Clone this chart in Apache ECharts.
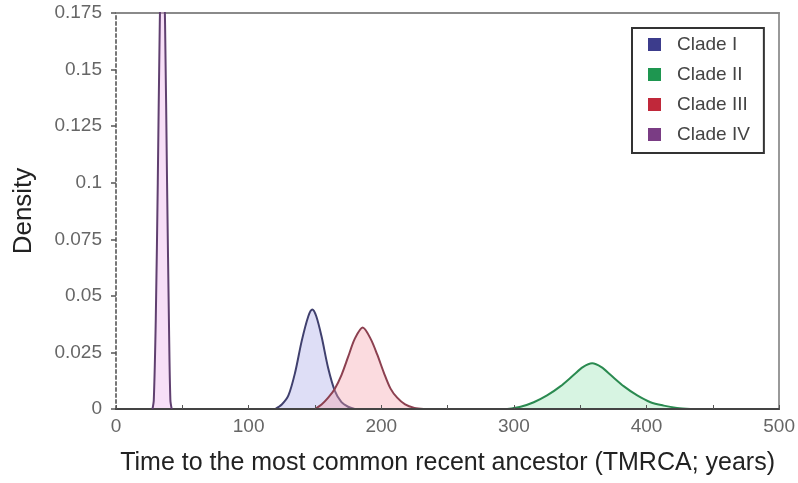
<!DOCTYPE html>
<html>
<head>
<meta charset="utf-8">
<script src="https://cdn.jsdelivr.net/npm/echarts@6/dist/echarts.min.js"></script>
<style>html,body{margin:0;padding:0;background:#fff}#c{width:798px;height:483px}</style>
</head>
<body>
<div id="c"></div>
<script>
// ---- data ----
var cladeNames = ['Clade I', 'Clade II', 'Clade III', 'Clade IV'];

var cladeIx = [120, 125, 130, 135, 140, 145, 148, 151, 155, 160, 165, 170, 175, 180];
var cladeIy = [0, 0.002, 0.006, 0.016, 0.030, 0.041, 0.044, 0.041, 0.032, 0.018, 0.008, 0.003, 0.001, 0];

var cladeIIx = [295, 305, 315, 325, 335, 345, 352, 359, 366, 373, 383, 393, 403, 413, 423, 433];
var cladeIIy = [0, 0.001, 0.003, 0.006, 0.010, 0.015, 0.0185, 0.0202, 0.0185, 0.015, 0.010, 0.006, 0.003, 0.0015, 0.0005, 0];

var cladeIIIx = [150, 155, 160, 165, 170, 175, 180, 186, 192, 197, 202, 207, 212, 218, 225, 232];
var cladeIIIy = [0, 0.002, 0.005, 0.009, 0.015, 0.023, 0.031, 0.036, 0.031, 0.024, 0.016, 0.009, 0.005, 0.002, 0.0005, 0];

var cladeIVx = [27.5, 28.5, 30, 31.5, 33, 35, 37, 38.5, 40, 41, 42];
var cladeIVy = [0, 0.004, 0.04, 0.10, 0.17, 0.225, 0.17, 0.10, 0.035, 0.004, 0];

var xTicks = [0, 100, 200, 300, 400, 500];
var yTicks = [0, 0.025, 0.05, 0.075, 0.1, 0.125, 0.15, 0.175];

// ---- styles ----
var markerColors = ['#3c3c8c', '#1e9650', '#c0283a', '#7a3c84'];
var lineColors = ['#40406e', '#2a8a50', '#8c4050', '#604070'];
var fillColors = ['rgba(160,160,230,0.35)', 'rgba(150,225,180,0.38)', 'rgba(245,160,172,0.38)', 'rgba(235,170,235,0.38)'];

function pairs(xs, ys) { return xs.map(function (x, i) { return [x, ys[i]]; }); }
var allData = [pairs(cladeIx, cladeIy), pairs(cladeIIx, cladeIIy), pairs(cladeIIIx, cladeIIIy), pairs(cladeIVx, cladeIVy)];

var FONT = 'Liberation Sans, Arial, sans-serif';

var series = cladeNames.map(function (n, i) {
  return {
    name: n, type: 'line', data: allData[i], xAxisIndex: 0, yAxisIndex: 0,
    showSymbol: false, smooth: 0.3, clip: true,
    itemStyle: { color: markerColors[i] },
    lineStyle: { color: lineColors[i], width: 2 },
    areaStyle: { color: fillColors[i], opacity: 1 },
    z: 2 + i
  };
});

var chart = echarts.init(document.getElementById('c'));
chart.setOption({
  animation: false,
  backgroundColor: '#fff',
  grid: { left: 116, right: 18, top: 13, bottom: 74 },
  legend: {
    data: cladeNames, orient: 'vertical', left: 632, top: 28,
    padding: [7, 14, 9, 16], itemGap: 11, itemWidth: 13, itemHeight: 13,
    icon: 'rect', borderColor: '#333', borderWidth: 2, backgroundColor: '#fff',
    textStyle: { fontFamily: FONT, fontSize: 19, color: '#444', padding: [0, 0, 0, 11] },
    z: 10
  },
  xAxis: [{
    type: 'value', min: xTicks[0], max: xTicks[xTicks.length - 1], interval: 50,
    splitLine: { show: false },
    axisLine: { show: true, onZero: false, lineStyle: { color: '#444', width: 2 } },
    axisTick: { show: true, inside: true, length: 4, lineStyle: { color: '#555' } },
    axisLabel: { margin: 8, fontFamily: FONT, fontSize: 19, color: '#666',
      formatter: function (v) { return xTicks.indexOf(v) >= 0 ? String(v) : ''; } },
    name: 'Time to the most common recent ancestor (TMRCA; years)',
    nameLocation: 'middle', nameGap: 42,
    nameTextStyle: { fontFamily: FONT, fontSize: 25, color: '#222' },
    z: 5
  }, {
    type: 'value', position: 'top', min: 0, max: 500,
    axisLine: { show: true, onZero: false, lineStyle: { color: '#8a8a8a', width: 2 } },
    axisTick: { show: false }, axisLabel: { show: false }, splitLine: { show: false }
  }],
  yAxis: [{
    type: 'value', min: yTicks[0], max: yTicks[yTicks.length - 1], interval: 0.025,
    splitLine: { show: false },
    axisLine: { show: true, onZero: false, lineStyle: { color: '#777', width: 2, type: [3, 3] } },
    axisTick: { show: true, length: 5, lineStyle: { color: '#555', width: 1.5 } },
    axisLabel: { margin: 14, fontFamily: FONT, fontSize: 19, color: '#666',
      formatter: function (v) { return String(+v.toFixed(3)); } },
    name: 'Density', nameLocation: 'middle', nameGap: 79, nameRotate: 90,
    nameTextStyle: { fontFamily: FONT, fontSize: 26, color: '#222' }
  }, {
    type: 'value', position: 'right', min: 0, max: 0.175,
    axisLine: { show: true, onZero: false, lineStyle: { color: '#999', width: 2 } },
    axisTick: { show: false }, axisLabel: { show: false }, splitLine: { show: false }
  }],
  series: series
});
</script>
</body>
</html>
